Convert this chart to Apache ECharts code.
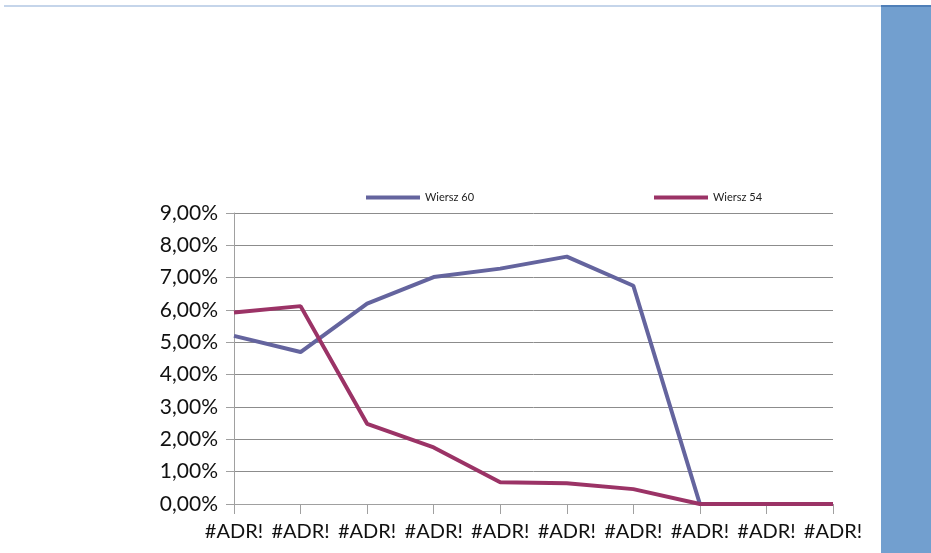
<!DOCTYPE html>
<html>
<head>
<meta charset="utf-8">
<script src="https://cdn.jsdelivr.net/npm/echarts@6/dist/echarts.min.js"></script>
<style>
html,body{margin:0;padding:0;background:#fff;}
#chart{width:931px;height:553px;}
</style>
</head>
<body>
<div id="chart"></div>
<script>
var categories = ['#ADR!','#ADR!','#ADR!','#ADR!','#ADR!','#ADR!','#ADR!','#ADR!','#ADR!','#ADR!'];
var wiersz60 = [5.20, 4.70, 6.20, 7.02, 7.28, 7.65, 6.75, 0, 0, 0];
var wiersz54 = [5.92, 6.12, 2.48, 1.75, 0.67, 0.64, 0.46, 0, 0, 0];
var yTicks = {min: 0, max: 9, interval: 1};

var chart = echarts.init(document.getElementById('chart'));
var font = 'Lato, "Open Sans", "Liberation Sans", sans-serif';
chart.setOption({
  animation: false,
  graphic: [
    {type: 'rect', shape: {x: 4, y: 5, width: 877, height: 2}, style: {fill: '#c5d5ea'}},
    {type: 'rect', shape: {x: 881, y: 6, width: 50, height: 547}, style: {fill: '#729fcf'}},
    {type: 'rect', shape: {x: 881, y: 5, width: 50, height: 2}, style: {fill: '#4f7fb8'}}
  ],
  legend: [
    {data: ['Wiersz 60'], left: 361, top: 187, itemWidth: 54, itemHeight: 4, itemGap: 6,
     icon: 'rect', textStyle: {fontSize: 11, color: '#222', fontFamily: font}},
    {data: ['Wiersz 54'], left: 649, top: 187, itemWidth: 54, itemHeight: 4, itemGap: 6,
     icon: 'rect', textStyle: {fontSize: 11, color: '#222', fontFamily: font}}
  ],
  grid: {left: 234, right: 98, top: 213, bottom: 49, containLabel: false},
  xAxis: {
    type: 'category', data: categories, boundaryGap: false,
    axisLine: {lineStyle: {color: '#a0a0a0', width: 1}},
    axisTick: {show: true, length: 10, lineStyle: {color: '#a0a0a0'}},
    axisLabel: {color: '#111', fontSize: 20, fontFamily: font, margin: 18, interval: 0}
  },
  yAxis: {
    type: 'value', min: yTicks.min, max: yTicks.max, interval: yTicks.interval,
    axisLine: {show: true, lineStyle: {color: '#a0a0a0', width: 1}},
    axisTick: {show: true, length: 8, lineStyle: {color: '#a0a0a0'}},
    splitLine: {lineStyle: {color: '#8c8c8c', width: 1}},
    axisLabel: {color: '#111', fontSize: 21, fontFamily: font, margin: 16,
      formatter: function(v){ return v.toFixed(2).replace('.', ',') + '%'; }}
  },
  series: [
    {name: 'Wiersz 60', type: 'line', data: wiersz60, symbol: 'none',
     lineStyle: {color: '#64649e', width: 4}, itemStyle: {color: '#64649e'}},
    {name: 'Wiersz 54', type: 'line', data: wiersz54, symbol: 'none',
     lineStyle: {color: '#9b3366', width: 4}, itemStyle: {color: '#9b3366'}}
  ]
});
</script>
</body>
</html>
